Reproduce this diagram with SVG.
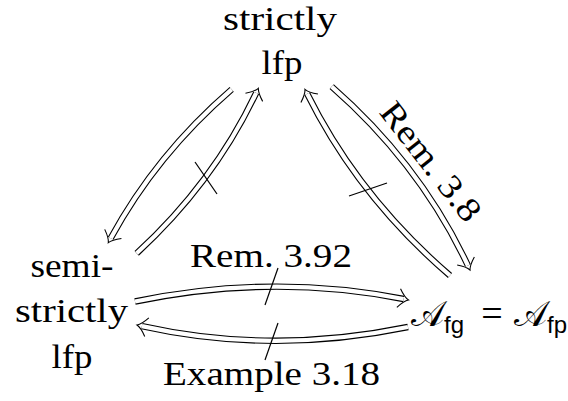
<svg xmlns="http://www.w3.org/2000/svg" width="568" height="401" viewBox="0 0 568 401">
<style>
.t{font-family:'Liberation Serif','Noto Serif','Times New Roman',serif;font-size:34px;fill:#000;text-anchor:middle}
.eq{font-family:'Liberation Serif','Noto Serif','Times New Roman',serif;font-size:38px;fill:#000;text-anchor:middle}
.cal{font-family:'DejaVu Serif','DejaVu Sans',serif;font-size:35px;fill:#000}
.sub{font-family:'Liberation Sans',Arial,sans-serif;font-size:24px;fill:#000}
.o{fill:none;stroke:#000;stroke-width:6.4}
.i{fill:none;stroke:#fff;stroke-width:4.2}
.s{fill:none;stroke:#000;stroke-width:1.2}
</style>
<defs>
<marker id="ah" markerUnits="userSpaceOnUse" viewBox="-12 -12 14 24" markerWidth="14" markerHeight="24" refX="-5" refY="0" orient="auto" overflow="visible">
<path d="M-10,-9.5 C-6,-4 -3,-1.2 0,0 C-3,1.2 -6,4 -10,9.5" fill="none" stroke="#000" stroke-width="1.1"/>
</marker>
</defs>
<rect width="568" height="401" fill="#fff"/>
<g id="connectors">
<g id="e-lfp-semi">
<path class="o" d="M231.7,89.3 Q156,154.7 110.7,238.3"/>
<path class="i" d="M231.7,89.3 Q156,154.7 110.7,238.3" marker-end="url(#ah)"/>
</g>
<g id="e-semi-lfp">
<path class="o" d="M136.7,253.3 Q213.6,182.7 256.2,92.8"/>
<path class="i" d="M136.7,253.3 Q213.6,182.7 256.2,92.8" marker-end="url(#ah)"/>
<line class="s" x1="195" y1="162" x2="217" y2="194"/>
</g>
<g id="e-lfp-A">
<path class="o" d="M331.7,86.7 Q420,164 467.9,265.5"/>
<path class="i" d="M331.7,86.7 Q420,164 467.9,265.5" marker-end="url(#ah)"/>
</g>
<g id="e-A-lfp">
<path class="o" d="M450,275.5 Q358.6,197.1 307.2,93.8"/>
<path class="i" d="M450,275.5 Q358.6,197.1 307.2,93.8" marker-end="url(#ah)"/>
<line class="s" x1="349" y1="196" x2="387" y2="183"/>
</g>
<g id="e-semi-A">
<path class="o" d="M135,301.5 Q272,273 403.6,299"/>
<path class="i" d="M135,301.5 Q272,273 403.6,299" marker-end="url(#ah)"/>
<line class="s" x1="278" y1="268" x2="265" y2="305"/>
</g>
<g id="e-A-semi">
<path class="o" d="M408,327 Q272,355 141.9,326.1"/>
<path class="i" d="M408,327 Q272,355 141.9,326.1" marker-end="url(#ah)"/>
<line class="s" x1="278" y1="323" x2="265" y2="360"/>
</g>
<text class="t" x="271" y="267" textLength="162" lengthAdjust="spacingAndGlyphs">Rem. 3.92</text>
<text class="t" x="271.5" y="385" textLength="217" lengthAdjust="spacingAndGlyphs">Example 3.18</text>
<text class="t" x="422" y="168.5" textLength="142" lengthAdjust="spacingAndGlyphs" transform="rotate(52 422 168.5)">Rem. 3.8</text>
</g>
<g id="node-strict">
<text class="t" x="280" y="30" textLength="114" lengthAdjust="spacingAndGlyphs">strictly</text>
<text class="t" x="282" y="74" textLength="41" lengthAdjust="spacingAndGlyphs">lfp</text>
</g>
<g id="node-semi">
<text class="t" x="72" y="277" textLength="83" lengthAdjust="spacingAndGlyphs">semi-</text>
<text class="t" x="71.5" y="322" textLength="113" lengthAdjust="spacingAndGlyphs">strictly</text>
<text class="t" x="72" y="368" textLength="41" lengthAdjust="spacingAndGlyphs">lfp</text>
</g>
<g id="node-A">
<text class="cal" x="411" y="326">𝒜</text>
<text class="sub" x="444" y="333">fg</text>
<text class="eq" x="492" y="326">=</text>
<text class="cal" x="514" y="326">𝒜</text>
<text class="sub" x="547" y="333">fp</text>
</g>
</svg>
